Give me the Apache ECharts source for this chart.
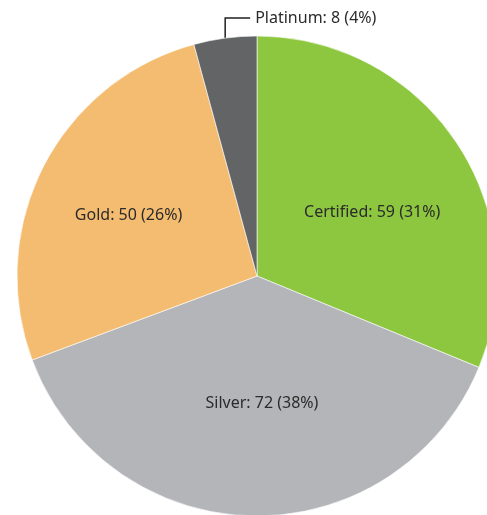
<!DOCTYPE html>
<html>
<head>
<meta charset="utf-8">
<script src="https://cdn.jsdelivr.net/npm/echarts@6/dist/echarts.min.js"></script>
<style>
  html, body { margin: 0; padding: 0; background: #fff; }
  #chart { width: 487px; height: 515px; }
</style>
</head>
<body>
<div id="chart"></div>
<script>
  const categories = ['Certified', 'Silver', 'Gold', 'Platinum'];
  const values = [59, 72, 50, 8];
  const colors = ['#8dc63f', '#b4b5b9', '#f4bc70', '#636466'];

  const total = values.reduce((a, b) => a + b, 0);
  // nudges for the inside labels, in pixels
  const labelNudge = [[13, 5], [7, 4], [-19, -4], [0, 0]];

  const chart = echarts.init(document.getElementById('chart'));

  chart.setOption({
    animation: false,
    series: [
      {
        type: 'pie',
        center: [257, 276],
        radius: 240,
        startAngle: 90,
        clockwise: true,
        itemStyle: { borderColor: '#fff', borderWidth: 0.6 },
        label: {
          show: true,
          position: 'inside',
          fontFamily: 'Noto Sans',
          fontSize: 16,
          color: '#2b2b2b',
          formatter: p => `${p.name}: ${p.value} (${Math.round(p.value / total * 100)}%)`,
        },
        labelLine: { show: false },
        labelLayout: params => {
          const i = params.dataIndex;
          if (categories[i] === 'Platinum' && params.labelLinePoints) {
            const p0 = params.labelLinePoints[0];
            const y1 = p0[1] - 20;
            return {
              x: p0[0] + 30,
              y: y1,
              align: 'left',
              verticalAlign: 'middle',
              labelLinePoints: [[p0[0], p0[1]], [p0[0], y1], [p0[0] + 25, y1]],
            };
          }
          return { dx: labelNudge[i][0], dy: labelNudge[i][1] };
        },
        data: categories.map((name, i) => {
          const item = { name, value: values[i], itemStyle: { color: colors[i] } };
          if (name === 'Platinum') {
            item.label = { position: 'outside' };
            item.labelLine = { show: true, length: 10, length2: 10, lineStyle: { color: '#231f20', width: 1.5 } };
          }
          return item;
        }),
      },
    ],
  });
</script>
</body>
</html>
